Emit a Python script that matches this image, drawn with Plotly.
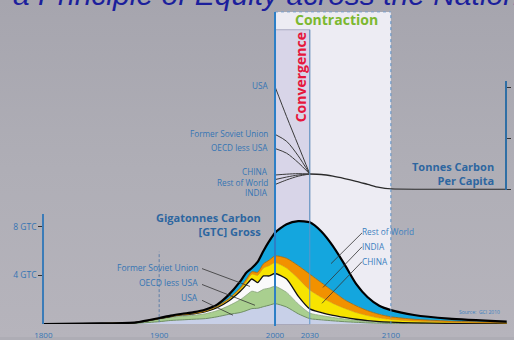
import base64
import plotly.graph_objects as go

W, H = 514, 340

# ---------------- data ----------------
years = [1800, 1850, 1880, 1900, 1910, 1920, 1930, 1940, 1950, 1960, 1970, 1975, 1980, 1985,
         1990, 1995, 2000, 2010, 2020, 2030, 2040, 2050, 2060, 2070, 2080, 2090, 2100, 2120, 2150, 2200]
# cumulative tops of the stacked bands, Gigatonnes Carbon
usa_top = [0, 0.02, 0.07, 0.2, 0.3, 0.35, 0.4, 0.45, 0.6, 0.8, 0.95, 1.1, 1.27, 1.3,
           1.43, 1.55, 1.68, 1.4, 0.85, 0.45, 0.35, 0.27, 0.2, 0.15, 0.1, 0.08, 0.06, 0.04, 0.03, 0.02]
oecd_top = [0, 0.04, 0.12, 0.4, 0.55, 0.65, 0.72, 0.85, 1.1, 1.5, 2.0, 2.35, 2.7, 2.6,
            2.85, 2.95, 3.1, 2.6, 1.65, 0.9, 0.7, 0.55, 0.42, 0.3, 0.2, 0.15, 0.12, 0.08, 0.05, 0.03]
fsu_top = [0, 0.05, 0.13, 0.45, 0.62, 0.75, 0.85, 1.02, 1.35, 1.9, 2.7, 3.2, 3.7, 3.4,
           3.95, 3.95, 4.15, 3.7, 2.3, 1.25, 0.95, 0.72, 0.55, 0.4, 0.28, 0.2, 0.16, 0.1, 0.06, 0.04]
china_top = [0, 0.05, 0.14, 0.47, 0.65, 0.78, 0.88, 1.06, 1.42, 2.0, 2.85, 3.45, 4.1, 4.0,
             4.6, 4.8, 5.05, 4.6, 3.75, 2.8, 2.2, 1.7, 1.3, 0.95, 0.7, 0.5, 0.38, 0.25, 0.15, 0.08]
india_top = [0, 0.05, 0.14, 0.48, 0.66, 0.8, 0.9, 1.09, 1.46, 2.08, 2.98, 3.65, 4.3, 4.25,
             4.95, 5.25, 5.6, 5.4, 4.8, 4.1, 3.4, 2.7, 2.0, 1.5, 1.1, 0.8, 0.6, 0.4, 0.25, 0.12]
row_top = [0, 0.06, 0.15, 0.5, 0.7, 0.85, 0.98, 1.2, 1.6, 2.4, 3.5, 4.2, 4.6, 5.1,
           6.0, 6.8, 7.5, 8.2, 8.45, 8.35, 7.6, 6.4, 4.9, 3.3, 2.2, 1.5, 1.15, 0.75, 0.45, 0.2]

# tonnes carbon per capita, convergence 2000-2030
pc_years = [2000, 2010, 2020, 2030]
pc_usa = [6.06, 4.3, 2.62, 0.93]
pc_fsu = [3.26, 2.85, 2.0, 0.93]
pc_oecd = [2.43, 2.15, 1.6, 0.93]
pc_china = [0.87, 0.92, 0.95, 0.93]
pc_row = [0.6, 0.75, 0.87, 0.93]
pc_india = [0.31, 0.58, 0.8, 0.93]
# common per-capita path after convergence
pc_global_years = [2030, 2040, 2050, 2060, 2070, 2080, 2090, 2100, 2150, 2200]
pc_global = [0.93, 0.9, 0.8, 0.66, 0.5, 0.32, 0.14, 0.05, 0.03, 0.03]

x_ticks = [1800, 1900, 2000, 2030, 2100, 2200]
gtc_ticks = [4, 8]
gtc_tick_labels = ["4 GTC", "8 GTC"]
pc_ticks = [0, 3, 6]

# ---------------- helpers ----------------
def px(x):
    return x / W


def py(y):
    return 1 - y / H


FONT = "Open Sans"
BLUE_TXT = "#3575b4"
BLUE_BOLD = "#2d66a0"

fig = go.Figure()

bands = [
    ("USA", usa_top, "#c8d0e8", "#6f8f64", 1.0),
    ("OECD less USA", oecd_top, "#a9cf8f", "#86a676", 0.8),
    ("Former Soviet Union", fsu_top, "#fafafa", "#111111", 1.3),
    ("CHINA", china_top, "#f7e300", "#d2a000", 0.6),
    ("INDIA", india_top, "#f29100", "#a86400", 0.8),
    ("Rest of World", row_top, "#14a6de", "#000000", 2.2),
]
for i, (name, vals, fc, lc, lw) in enumerate(bands):
    fig.add_trace(go.Scatter(
        x=years, y=vals, name=name, mode="lines",
        line=dict(color=lc, width=lw, shape="spline", smoothing=0.6),
        fill="tozeroy" if i == 0 else "tonexty", fillcolor=fc,
        xaxis="x", yaxis="y", showlegend=False, hoverinfo="skip"))

for name, vals in [("USA", pc_usa), ("Former Soviet Union", pc_fsu), ("OECD less USA", pc_oecd),
                   ("CHINA", pc_china), ("Rest of World", pc_row), ("INDIA", pc_india)]:
    fig.add_trace(go.Scatter(
        x=pc_years, y=vals, name=name, mode="lines",
        line=dict(color="#3a3a3a", width=1, shape="spline", smoothing=0.8),
        xaxis="x", yaxis="y2", showlegend=False, hoverinfo="skip"))
fig.add_trace(go.Scatter(
    x=pc_global_years, y=pc_global, name="Global", mode="lines",
    line=dict(color="#2a2a2a", width=1.3, shape="spline", smoothing=0.8),
    xaxis="x", yaxis="y2", showlegend=False, hoverinfo="skip"))

# ---------------- decorations ----------------
shapes = [
    dict(type="rect", xref="x", yref="paper", x0=2000, x1=2100, y0=py(327), y1=py(12),
         fillcolor="#edecf3", line=dict(width=0), layer="below"),
    dict(type="rect", xref="x", yref="paper", x0=2000, x1=2030, y0=py(327), y1=py(30),
         fillcolor="#d8d5e8", line=dict(color="#9c9cb8", width=0.8), layer="below"),
    dict(type="line", xref="x", yref="paper", x0=2100, x1=2100, y0=py(327), y1=py(12),
         line=dict(color="#5a90c8", width=1, dash="dot"), layer="above"),
    dict(type="line", xref="x", yref="paper", x0=2000, x1=2100, y0=py(12), y1=py(12),
         line=dict(color="#7aa0cc", width=1, dash="dot"), layer="above"),
    dict(type="line", xref="x", yref="paper", x0=2030, x1=2030, y0=py(327), y1=py(30),
         line=dict(color="#5f95c8", width=1), layer="above"),
    dict(type="line", xref="x", yref="paper", x0=2000, x1=2000, y0=py(329), y1=py(12),
         line=dict(color="#2d7fc6", width=2), layer="above"),
    dict(type="line", xref="x", yref="paper", x0=1900, x1=1900, y0=py(325), y1=py(254),
         line=dict(color="#5f7fa8", width=1, dash="3px,2px"), layer="above"),
]

leaders = [
    ((202, 271), (250, 289)), ((202, 287), (255, 308)), ((202, 303), (233, 318)),
    ((362, 235), (331, 266)), ((362, 249), (323, 290)), ((362, 264), (322, 306)),
]
for (xa, ya), (xb, yb) in leaders:
    shapes.append(dict(type="line", xref="paper", yref="paper", x0=px(xa), y0=py(ya),
                       x1=px(xb), y1=py(yb), line=dict(color="#333333", width=0.8), layer="above"))

annotations = []


def label(text, x, y, xanchor="left", size=8, color=BLUE_TXT, bold=False, angle=0,
          family=FONT, align="left"):
    annotations.append(dict(
        text=f"<b>{text}</b>" if bold else text, x=px(x), y=py(y), xref="paper", yref="paper",
        xanchor=xanchor, yanchor="middle", showarrow=False, textangle=angle, align=align,
        font=dict(family=family, size=size, color=color), borderpad=0))


# title
annotations.append(dict(
    text="<i>a Principle of Equity across the Nation</i>", x=px(11), y=py(-6), xref="paper",
    yref="paper", xanchor="left", yanchor="middle", showarrow=False,
    font=dict(family="Liberation Sans", size=30, color="#1c1f9c")))

label("Contraction", 336, 19.5, xanchor="center", size=14, color="#7cb82f", bold=True)
label("Convergence", 300, 78, xanchor="center", size=14, color="#e6173d", bold=True, angle=-90)

for t, y in [("USA", 86), ("Former Soviet Union", 135), ("OECD less USA", 149.3),
             ("CHINA", 173), ("Rest of World", 184), ("INDIA", 194)]:
    label(t, 268.5, y, xanchor="right", size=8.2)

label("<b>Tonnes Carbon</b><br><b>Per Capita</b>", 495, 175, xanchor="right", size=11,
      color=BLUE_BOLD, align="right")
label("<b>Gigatonnes Carbon</b><br><b>[GTC] Gross</b>", 262, 226, xanchor="right", size=11,
      color=BLUE_BOLD, align="right")

for t, y in [("Former Soviet Union", 270), ("OECD less USA", 285.3), ("USA", 300)]:
    label(t, 199, y, xanchor="right", size=8.5)
for t, y in [("Rest of World", 233.5), ("INDIA", 249), ("CHINA", 263.5)]:
    label(t, 361, y, xanchor="left", color="#3a80c0", size=8.3)

label("Source:  GCI 2010", 501, 315, xanchor="right", size=5, color="#3a80c0")

# background gradient
svg = ('<svg xmlns="http://www.w3.org/2000/svg" width="514" height="340">'
       '<defs><linearGradient id="g" x1="0" y1="0" x2="0" y2="1">'
       '<stop offset="0" stop-color="#a6a5ae"/><stop offset="0.5" stop-color="#afaeb6"/>'
       '<stop offset="1" stop-color="#b6b4bc"/></linearGradient></defs>'
       '<rect width="514" height="340" fill="url(#g)"/></svg>')
bg_src = "data:image/svg+xml;base64," + base64.b64encode(svg.encode()).decode()

fig.update_layout(
    width=W, height=H, autosize=False,
    margin=dict(l=0, r=0, t=0, b=0, pad=0),
    paper_bgcolor="#aeadb5", plot_bgcolor="rgba(0,0,0,0)",
    font=dict(family=FONT, color=BLUE_TXT),
    images=[dict(source=bg_src, xref="paper", yref="paper", x=0, y=1, sizex=1, sizey=1,
                 xanchor="left", yanchor="top", sizing="stretch", layer="below")],
    xaxis=dict(domain=[0, 1], range=[1762.6, 2206.3], anchor="y", showgrid=False,
               zeroline=False, showline=False, tickvals=x_ticks,
               ticktext=[str(v) for v in x_ticks], ticks="outside", ticklen=3,
               tickcolor="rgba(0,0,0,0)", tickfont=dict(size=8, color=BLUE_TXT, family=FONT)),
    yaxis=dict(domain=[py(327), py(216)], range=[0, 111 / 12.3], anchor="free",
               position=px(43.3), showgrid=False, zeroline=False, showline=True,
               linecolor="#3b7cb8", linewidth=2, ticks="outside", ticklen=4,
               tickcolor="#333333", tickvals=gtc_ticks, ticktext=gtc_tick_labels,
               tickfont=dict(size=8.5, color=BLUE_TXT, family=FONT)),
    yaxis2=dict(domain=[py(191.5), py(82)], range=[0, (191.5 - 82) / 17.17], anchor="free",
                position=px(506), side="right", showgrid=False, zeroline=False,
                showline=True, linecolor="#2f6fa5", linewidth=1.5, ticks="outside",
                ticklen=4, tickcolor="#333333", tickvals=pc_ticks, showticklabels=False),
    shapes=shapes, annotations=annotations,
)

fig.write_html("out.html", config={"displayModeBar": False},
               post_script="document.body.style.margin='0';")
